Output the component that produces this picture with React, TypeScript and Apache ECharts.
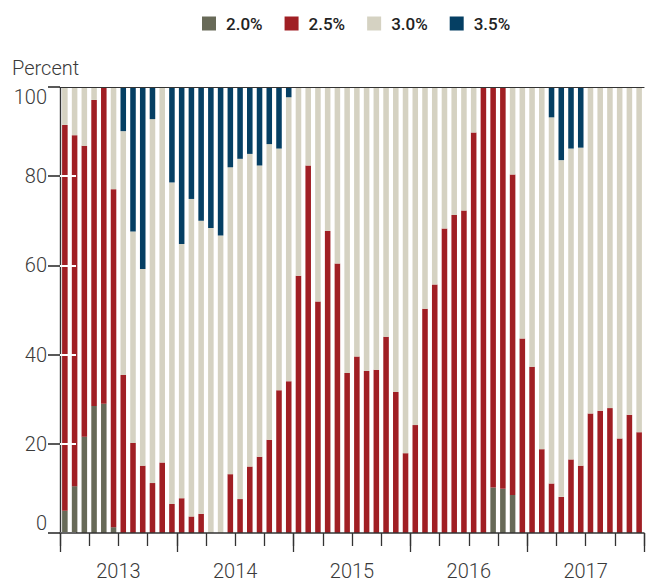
import React, { useEffect, useRef } from "react";
import * as echarts from "echarts";

const years = ["2013", "2014", "2015", "2016", "2017"];
const monthNums = ["01", "02", "03", "04", "05", "06", "07", "08", "09", "10", "11", "12"];
const categories = years.flatMap((y) => monthNums.map((m) => `${y}-${m}`));

const seriesNames = ["2.0%", "2.5%", "3.0%", "3.5%"];
const seriesColors = ["#686a58", "#a01f24", "#d5d2c2", "#053f63"];

const s20 = [
  5.0, 10.5, 21.6, 28.5, 29.0, 1.3, 0, 0, 0, 0,
  0, 0, 0, 0, 0, 0, 0, 0, 0, 0,
  0, 0, 0, 0, 0, 0, 0, 0, 0, 0,
  0, 0, 0, 0, 0, 0, 0, 0, 0, 0,
  0, 0, 0, 0, 10.2, 9.9, 8.5, 0, 0, 0,
  0, 0, 0, 0, 0, 0, 0, 0, 0, 0,
];
const s25 = [
  86.5, 78.7, 65.2, 68.6, 71.0, 75.8, 35.4, 20.2, 15.1, 11.2,
  15.8, 6.5, 7.8, 3.7, 4.3, 0, 0, 13.2, 7.6, 14.9,
  17.1, 20.9, 32.0, 34.0, 57.7, 82.4, 51.9, 67.7, 60.4, 35.9,
  39.6, 36.3, 36.6, 44.0, 31.6, 17.9, 24.2, 50.3, 55.7, 68.3,
  71.3, 72.3, 89.8, 100, 89.8, 90.1, 71.9, 43.6, 37.3, 18.8,
  11.1, 8.1, 16.5, 15.1, 26.8, 27.4, 28.0, 21.2, 26.5, 22.6,
];
const s30 = [
  8.5, 10.8, 13.2, 2.9, 0, 22.9, 54.7, 47.4, 44.1, 81.6,
  84.2, 72.1, 57.0, 71.2, 65.7, 68.4, 66.7, 68.8, 76.3, 70.1,
  65.3, 66.3, 54.2, 63.7, 42.3, 17.6, 48.1, 32.3, 39.6, 64.1,
  60.4, 63.7, 63.4, 56.0, 68.4, 82.1, 75.8, 49.7, 44.3, 31.7,
  28.7, 27.7, 10.2, 0, 0, 0, 19.6, 56.4, 62.7, 81.2,
  82.1, 75.5, 69.7, 71.3, 73.2, 72.6, 72.0, 78.8, 73.5, 77.4,
];
const s35 = [
  0, 0, 0, 0, 0, 0, 9.9, 32.4, 40.8, 7.2,
  0, 21.4, 35.2, 25.1, 30.0, 31.6, 33.3, 18.0, 16.1, 15.0,
  17.6, 12.8, 13.8, 2.3, 0, 0, 0, 0, 0, 0,
  0, 0, 0, 0, 0, 0, 0, 0, 0, 0,
  0, 0, 0, 0, 0, 0, 0, 0, 0, 0,
  6.8, 16.4, 13.8, 13.6, 0, 0, 0, 0, 0, 0,
];
const seriesData = [s20, s25, s30, s35];

const FONT = "Roboto";
const TEXT = "#3a3a3a";
const LINE = "#333";

export default function App() {
  const ref = useRef<HTMLDivElement>(null);
  useEffect(() => {
    document.body.style.margin = "0";
    if (!ref.current) return;
    const chart = echarts.init(ref.current, undefined, { renderer: "svg" });
    const n = categories.length;
    chart.setOption({
      animation: false,
      legend: {
        data: seriesNames,
        top: 10,
        left: 197,
        icon: "rect",
        itemWidth: 14,
        itemHeight: 14,
        itemGap: 22,
        textStyle: { fontFamily: FONT, fontSize: 17, fontWeight: 500, color: "#222", padding: [0, 0, 0, 5] },
      },
      graphic: [
        {
          type: "text",
          x: 12,
          y: 68,
          style: { text: "Percent", fontFamily: FONT, fontSize: 20, fontWeight: 300, fill: TEXT, verticalAlign: "middle" },
        },
      ],
      grid: { left: 60, right: 1, top: 87, bottom: 51, containLabel: false },
      xAxis: [
        {
          type: "category",
          data: categories,
          position: "bottom",
          axisLine: { show: false },
          axisTick: { show: false },
          axisLabel: { show: false },
          splitLine: { show: false },
        },
        {
          type: "value",
          min: 0,
          max: n,
          interval: 3,
          position: "bottom",
          z: 6,
          axisLine: { show: true, lineStyle: { color: LINE, width: 1.5 } },
          axisTick: { show: true, length: 13, lineStyle: { color: LINE, width: 1.3 } },
          axisLabel: { show: false },
          splitLine: { show: false },
        },
        {
          type: "value",
          min: 0,
          max: n,
          interval: 12,
          position: "bottom",
          z: 6,
          axisLine: { show: false },
          axisTick: { show: true, length: 19, lineStyle: { color: LINE, width: 1.3 } },
          axisLabel: { show: false },
          splitLine: { show: false },
        },
        {
          type: "value",
          min: 0,
          max: n,
          interval: 6,
          position: "bottom",
          axisLine: { show: false },
          axisTick: { show: false },
          splitLine: { show: false },
          axisLabel: {
            show: true,
            margin: 28,
            fontFamily: FONT,
            fontSize: 20,
            fontWeight: 300,
            color: TEXT,
            formatter: (v: number) => (v % 12 === 6 ? years[(v - 6) / 12] : ""),
          },
        },
        {
          type: "value",
          min: 0,
          max: n,
          position: "top",
          z: 6,
          axisLine: { show: true, lineStyle: { color: LINE, width: 1.2 } },
          axisTick: { show: false },
          axisLabel: { show: false },
          splitLine: { show: false },
        },
      ],
      yAxis: [
        {
          type: "value",
          min: 0,
          max: 100,
          interval: 20,
          position: "left",
          z: 5,
          axisLine: { show: true, lineStyle: { color: LINE, width: 1.2 } },
          axisTick: { show: true, inside: true, length: 16, lineStyle: { color: "#ffffff", width: 2 } },
          axisLabel: {
            show: true,
            margin: 13,
            fontFamily: FONT,
            fontSize: 20,
            fontWeight: 300,
            color: TEXT,
            verticalAlignMaxLabel: "top",
            verticalAlignMinLabel: "bottom",
          },
          splitLine: { show: false },
        },
        {
          type: "value",
          min: 0,
          max: 100,
          interval: 20,
          position: "right",
          z: 5,
          axisLine: { show: true, lineStyle: { color: LINE, width: 1.2 } },
          axisTick: { show: true, inside: true, length: 12, lineStyle: { color: "#222", width: 1.5 } },
          axisLabel: { show: false },
          splitLine: { show: false },
        },
      ],
      series: seriesNames.map((name, i) => ({
        name,
        type: "bar",
        stack: "total",
        xAxisIndex: 0,
        yAxisIndex: 0,
        barCategoryGap: "43%",
        itemStyle: { color: seriesColors[i] },
        emphasis: { disabled: true },
        data: seriesData[i],
      })),
    });
    return () => chart.dispose();
  }, []);
  return <div ref={ref} style={{ width: 647, height: 584 }} />;
}
